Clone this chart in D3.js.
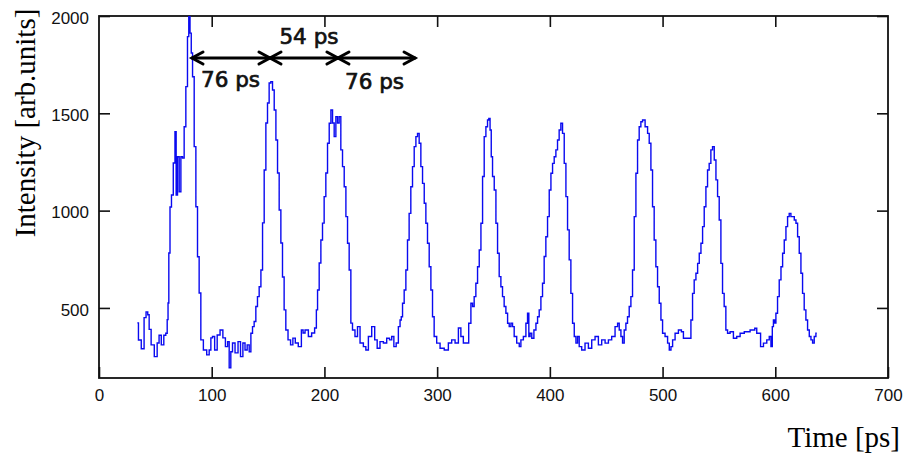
<!DOCTYPE html>
<html>
<head>
<meta charset="utf-8">
<script src="https://cdn.jsdelivr.net/npm/d3@7"></script>
<style>
  body { margin: 0; background: #fff; }
  .tick text { font-family: "Liberation Sans", Arial, sans-serif; font-size: 17px; fill: #111; }
</style>
</head>
<body>
<div id="chart"></div>
<script>
// streak camera trace
var times = [
  34, 36, 39, 41, 42.5, 44, 45, 47.5, 50.6, 52.6, 54, 56.5, 58.5, 60, 61,
  61.5, 62.4, 63.6, 65, 66.8, 68, 68.9, 70.4, 71.9, 73.4, 74.8, 76.3, 77.8, 79.2, 80.1, 81.4, 82.3, 83.7, 85.2, 86.7, 88.1, 89.6, 91.1, 94.1,
  97, 98.5, 100, 101.4, 103.8, 105.9, 108.9, 110.9, 113.4, 114.8, 116.2, 117.7, 119.2, 122.2, 124.5, 126.6, 128.7, 130.4, 132.5, 134, 135.5, 136.9, 138.4, 139.9, 141.3, 142.9,
  144.4, 145.8, 147.3, 148.8, 150.2, 151.7, 153.2, 154.7, 156.2, 157.7, 159.1, 160.6, 162.1, 163.5, 165, 166.5, 168.9, 171, 173, 175.3, 178.3, 180.8,
  181.3, 184.3, 187.2, 190.1, 192.5,
  193.2, 194.6, 196.1, 197.6, 199, 200.5, 202, 203.5, 205, 206.5, 207.9, 209.4, 210.9, 212.3, 213.8, 215.3, 216.8, 218.3, 219.8, 221.2, 222.7, 224.2, 225.6,
  228.6, 230.1, 233.1, 236, 237.5, 240.5, 243.4, 245.8, 247.8, 250.8, 253.8, 256.7, 258.8, 260.6, 262.6, 264.7, 266.5, 267.7,
  268.6, 270, 271.5, 273, 274.4, 275.9, 277.4, 278.9, 280.4, 281.9, 283.3, 284.8, 286.3, 287.8, 289.3, 290.7, 292.2, 293.7, 295.2, 296.6, 298.1,
  301.1, 304.1, 308.5, 311.4, 314.4, 317.4, 320.3, 321.8, 324.7, 326.8, 329.2, 330.7, 332.1, 333.6,
  335.1, 336.6, 338.1, 339.6, 341, 342.5, 344, 345.4, 346.3, 347.6, 348.4, 349.9, 351.4, 352.9, 354.3, 355.8, 357.3, 358.7, 360.2, 361.8, 363.2, 364.7, 366.2, 367.6, 369.1,
  372.1, 373.6, 375, 378, 379.5, 380.9, 381.8, 383.1, 384.8, 386.9, 388.4, 389.8, 391.3, 392.8, 394.2,
  395.7, 397.2, 398.7, 400.2, 401.7, 403.1, 404.6, 406.1, 407.5, 409, 410.5, 412, 413.5, 415, 416.4, 417.9, 419.4, 420.9, 422.4,
  423.9, 425.3, 426.8, 429.7, 432.7, 435.7, 438.6, 441.6, 444.5, 447.5, 450.5, 453.4, 456.3, 459.4, 460.8, 462.3, 463.8, 465.2, 466.7, 468.2, 469.6, 471.2, 472.6,
  474.1, 475.6, 477.1, 478.5, 480, 481.5, 483, 486, 487.4, 488.9, 490.4, 491.8, 493.3, 494.8, 496.3, 497.8, 499.3, 500.7,
  503.7, 505.2, 506.7, 508.2, 509.6, 512.6, 515.5, 517.9, 519.1, 521.5, 524.4, 525.9,
  527.3, 528.8, 530.4, 531.8, 533.3, 534.8, 536.2, 537.7, 539.2, 540.6, 542.1, 543.6, 545.1, 546.6, 548.1, 549.5, 551, 552.5, 553.9, 555.4, 556.9, 558.4,
  561.4, 564.3, 567.3, 570.3, 574.7, 580.6, 583, 584.1, 585.9, 588, 591, 593.9, 595.4, 596.9, 597.8, 598.9, 599.8, 601.3,
  602.7, 604.3, 605.8, 607.2, 608.7, 610.2, 611.6, 613.1, 614.6, 616.1, 617.6, 619.1, 620.5, 622, 623.5, 624.9, 626.4, 627.9, 629.4, 630.9, 632.4, 633.8, 635.3, 636.8
];
var intensity = [
  423, 335, 290, 450, 480, 465, 390, 310, 250, 320, 360, 310, 360, 370, 440,
  525, 782, 1019, 1080, 1245, 1406, 1080, 1277, 1097, 1277, 1270, 1431, 1637, 1894, 1997, 1912, 1810, 1688, 1329, 1020, 763, 577, 336, 284,
  259, 284, 346, 353, 284, 361, 387, 346, 301, 327, 192, 275, 320, 269, 327, 250, 320, 284, 310, 275, 370, 404, 430, 507, 558, 609,
  695, 937, 1209, 1450, 1553, 1656, 1663, 1620, 1517, 1363, 1193, 1003, 834, 659, 490, 387, 336, 310, 345, 320, 301, 387,
  371, 387, 353, 371, 397,
  490, 592, 731, 849, 936, 1072, 1193, 1346, 1449, 1517, 1450, 1380, 1483, 1450, 1483, 1312, 1226, 1123, 969, 832, 695, 422, 387,
  353, 404, 320, 301, 284, 353, 404, 336, 293, 327, 320, 344, 336, 353, 301, 320, 404, 438,
  455, 524, 592, 695, 849, 986, 1123, 1226, 1329, 1380, 1397, 1346, 1226, 1140, 1038, 935, 832, 712, 592, 455, 353,
  319, 293, 284, 320, 336, 320, 397, 353, 320, 320, 421, 524, 507, 558,
  627, 712, 798, 935, 1175, 1380, 1431, 1466, 1474, 1414, 1277, 1175, 1106, 935, 781, 661, 609, 558, 507, 473, 421, 404, 422, 404, 353,
  319, 301, 336, 353, 421, 473, 353, 370, 344, 387, 421, 455, 490, 558, 627,
  764, 866, 969, 1106, 1192, 1243, 1277, 1312, 1363, 1414, 1449, 1397, 1243, 1072, 901, 747, 575, 421, 353,
  319, 353, 301, 284, 319, 293, 336, 353, 310, 336, 319, 336, 353, 404, 421, 387, 353, 319, 387, 421, 455, 507, 558,
  695, 969, 1192, 1363, 1431, 1457, 1466, 1431, 1397, 1346, 1209, 1020, 849, 712, 609, 524, 438, 370,
  353, 319, 284, 301, 336, 370, 387, 378, 344, 344, 344, 438,
  575, 644, 678, 729, 781, 832, 918, 1020, 1123, 1209, 1243, 1312, 1329, 1260, 1158, 1072, 952, 729, 575, 507, 387, 370,
  378, 344, 353, 370, 378, 387, 396, 370, 370, 301, 319, 336, 353, 301, 404, 438, 422, 473,
  558, 644, 712, 781, 849, 918, 969, 986, 969, 969, 952, 935, 866, 781, 678, 575, 490, 438, 387, 353, 336, 319, 353, 370
];

var xTicks = [0, 100, 200, 300, 400, 500, 600, 700];
var yTicks = [500, 1000, 1500, 2000];

// interval arrows near the top
var arrowTimes = [82.5, 151.7, 212, 280.4];
var arrowLevel = 1784;
var arrowLabels = ["76 ps", "54 ps", "76 ps"];

var width = 904, height = 453;
var margin = {top: 16, right: 16, bottom: 75, left: 99};

var svg = d3.select("#chart").append("svg")
  .attr("width", width).attr("height", height);

var x = d3.scaleLinear().domain([0, 700]).range([margin.left, width - margin.right]);
var y = d3.scaleLinear().domain([140, 2000]).range([height - margin.bottom, margin.top]);

var tl = 11;
var fmt = d3.format("d");
function styleAxis(g) {
  g.select(".domain").remove();
  g.selectAll(".tick line").attr("stroke", "#111").attr("stroke-width", 1.6);
}

svg.append("g").attr("transform", "translate(" + x(0) + ",0)")
  .call(d3.axisLeft(y).tickValues(yTicks).tickSize(-tl).tickSizeOuter(0).tickPadding(10).tickFormat(fmt))
  .call(styleAxis)
  .selectAll("text").attr("dy", "0.42em");
svg.append("g").attr("transform", "translate(" + x(700) + ",0)")
  .call(d3.axisRight(y).tickValues(yTicks).tickSize(-tl).tickSizeOuter(0).tickFormat(""))
  .call(styleAxis);
svg.append("g").attr("transform", "translate(0," + y(140) + ")")
  .call(d3.axisBottom(x).tickValues(xTicks).tickSize(-tl).tickSizeOuter(0).tickPadding(11).tickFormat(fmt))
  .call(styleAxis);
svg.append("g").attr("transform", "translate(0," + y(2000) + ")")
  .call(d3.axisTop(x).tickValues(xTicks.slice(1, -1)).tickSize(-tl).tickSizeOuter(0).tickFormat(""))
  .call(styleAxis);

// frame
svg.append("rect")
  .attr("x", x(0)).attr("y", y(2000))
  .attr("width", x(700) - x(0)).attr("height", y(140) - y(2000))
  .attr("fill", "none").attr("stroke", "#111").attr("stroke-width", 1.8);

var data = times.map(function (t, i) { return {t: t, v: intensity[i]}; });

var line = d3.line()
  .x(function (d) { return x(d.t); })
  .y(function (d) { return y(d.v); })
  .curve(d3.curveStep);

svg.append("path")
  .datum(data)
  .attr("d", line)
  .attr("fill", "none")
  .attr("stroke", "#0a0af0")
  .attr("stroke-width", 1.4);

// arrows
var ay = y(arrowLevel);
var head = 11, hw = 6;
var ann = svg.append("g").attr("stroke", "#000").attr("stroke-width", 3).attr("fill", "none")
  .attr("stroke-linecap", "round");
for (var i = 0; i < arrowTimes.length - 1; i++) {
  var a = x(arrowTimes[i]), b = x(arrowTimes[i + 1]);
  ann.append("path").attr("d", "M" + a + "," + ay + "H" + b);
  ann.append("path").attr("d", "M" + (a + head) + "," + (ay - hw) + "L" + a + "," + ay + "L" + (a + head) + "," + (ay + hw));
  ann.append("path").attr("d", "M" + (b - head) + "," + (ay - hw) + "L" + b + "," + ay + "L" + (b - head) + "," + (ay + hw));
}

var lab = svg.append("g").attr("font-family", "DejaVu Sans, Verdana, sans-serif")
  .attr("font-size", 21.5).attr("fill", "#111")
  .attr("stroke", "#111").attr("stroke-width", 0.7);
lab.append("text").attr("x", x(arrowTimes[0]) + 9).attr("y", ay + 29).text(arrowLabels[0]);
lab.append("text").attr("x", (x(arrowTimes[1]) + x(arrowTimes[2])) / 2 + 5).attr("y", ay - 14)
  .attr("text-anchor", "middle").text(arrowLabels[1]);
lab.append("text").attr("x", x(arrowTimes[2]) + 7).attr("y", ay + 31).text(arrowLabels[2]);

// axis titles
svg.append("text")
  .attr("transform", "translate(35,123) rotate(-90)")
  .attr("text-anchor", "middle")
  .attr("font-family", "Liberation Serif, Times New Roman, serif")
  .attr("font-size", 29)
  .text("Intensity [arb.units]");

svg.append("text")
  .attr("x", 900).attr("y", 447)
  .attr("text-anchor", "end")
  .attr("font-family", "Liberation Serif, Times New Roman, serif")
  .attr("font-size", 29)
  .text("Time [ps]");
</script>
</body>
</html>
